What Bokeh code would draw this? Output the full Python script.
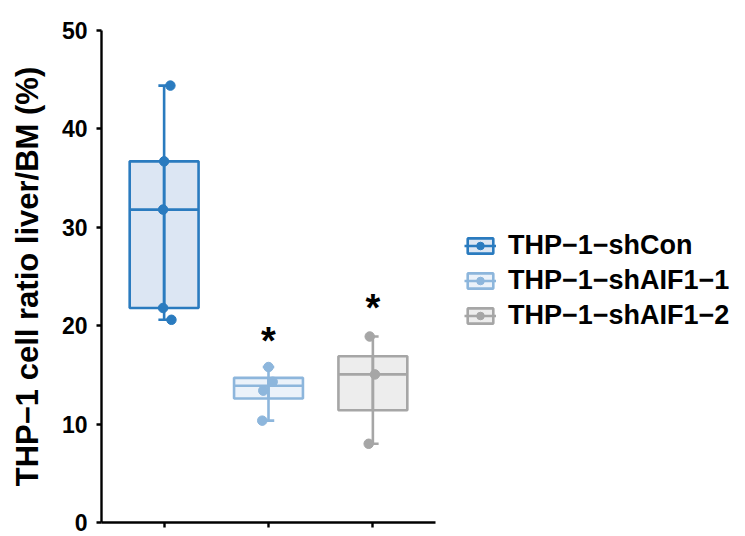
from bokeh.plotting import figure
from bokeh.models import Range1d, FixedTicker, Legend, LegendItem, ColumnDataSource
from bokeh.core.properties import value
from bokeh.embed import file_html
from bokeh.resources import INLINE

groups = ["THP\u22121\u2212shCon", "THP\u22121\u2212shAIF1\u22121", "THP\u22121\u2212shAIF1\u22122"]
points_shCon = [44.4, 36.7, 31.8, 21.8, 20.6]
points_shAIF1_1 = [15.8, 14.3, 13.4, 10.35]
points_shAIF1_2 = [18.9, 15.05, 8.0]
jitter_shCon = [0.06, 0.0, -0.01, -0.01, 0.07]
jitter_shAIF1_1 = [0.0, 0.04, -0.05, -0.06]
jitter_shAIF1_2 = [-0.03, 0.02, -0.04]
q1 = [21.8, 12.6, 11.4]
median = [31.8, 13.9, 15.05]
q3 = [36.7, 14.7, 16.9]
whisker_low = [20.6, 10.35, 8.0]
whisker_high = [44.4, 15.8, 18.9]
sig_x = [2, 3]
sig_y = [18.4, 21.75]
sig_text = ["*", "*"]

line_colors = ["#2A7BBF", "#8DB6DC", "#A6A6A6"]
fill_colors = ["#DCE6F3", "#EBF2FA", "#EDEDED"]

FONT = "Liberation Sans"
LW = 2.6

p = figure(frame_width=334, frame_height=492, output_backend="svg", toolbar_location=None,
           x_range=Range1d(0.4, 3.6), y_range=Range1d(0, 50),
           min_border_left=101, min_border_right=5, min_border_top=30, min_border_bottom=14)
p.outline_line_color = None
p.xgrid.visible = False
p.ygrid.visible = False

all_points = [points_shCon, points_shAIF1_1, points_shAIF1_2]
all_jitter = [jitter_shCon, jitter_shAIF1_1, jitter_shAIF1_2]
items = []
bw = 0.33
cw = 0.055
for i in range(3):
    xc = i + 1
    lc = line_colors[i]
    fc = fill_colors[i]
    box = p.quad(left=[xc - bw], right=[xc + bw], bottom=[q1[i]], top=[q3[i]],
                 fill_color=fc, line_color=lc, line_width=LW)
    p.segment(x0=[xc, xc], y0=[whisker_low[i], q1[i]], x1=[xc, xc], y1=[q3[i], whisker_high[i]],
              line_color=lc, line_width=LW)
    p.segment(x0=[xc - cw, xc - cw], y0=[whisker_low[i], whisker_high[i]],
              x1=[xc + cw, xc + cw], y1=[whisker_low[i], whisker_high[i]],
              line_color=lc, line_width=LW)
    med = p.segment(x0=[xc - bw], y0=[median[i]], x1=[xc + bw], y1=[median[i]],
                    line_color=lc, line_width=LW)
    src = ColumnDataSource(dict(x=[xc + j for j in all_jitter[i]], y=all_points[i]))
    sc = p.scatter("x", "y", source=src, size=9.5, fill_color=lc, line_color=lc)
    items.append(LegendItem(label=groups[i], renderers=[box, med, sc]))

p.text(x=sig_x, y=sig_y, text=sig_text, text_font=value(FONT), text_font_style="bold",
       text_font_size="38px", text_align="center", text_baseline="middle", text_color="black")

legend = Legend(items=items, location=(29, 189), orientation="vertical",
                glyph_width=32, glyph_height=19, label_height=35, label_standoff=12,
                spacing=0, padding=0, margin=0, border_line_color=None,
                background_fill_alpha=0,
                label_text_font=FONT, label_text_font_style="bold", label_text_font_size="27px",
                label_text_color="black")
p.add_layout(legend, "right")

p.xaxis.ticker = FixedTicker(ticks=[1, 2, 3])
p.xaxis.major_label_overrides = {1: "", 2: "", 3: ""}
p.xaxis.major_label_standoff = 0
p.xaxis.major_tick_out = 5
p.xaxis.major_tick_in = 0
p.xaxis.minor_tick_line_color = None
p.xaxis.axis_line_width = 2.4
p.xaxis.major_tick_line_width = 2.4
p.xaxis.axis_line_color = "black"
p.xaxis.major_tick_line_color = "black"

p.yaxis.ticker = FixedTicker(ticks=[0, 10, 20, 30, 40, 50])
p.yaxis.axis_label = "THP\u22121 cell ratio liver/BM (%)"
p.yaxis.axis_label_text_font = FONT
p.yaxis.axis_label_text_font_style = "bold"
p.yaxis.axis_label_text_font_size = "31px"
p.yaxis.axis_label_text_color = "black"
p.yaxis.axis_label_standoff = 14
p.yaxis.major_label_text_font = FONT
p.yaxis.major_label_text_font_style = "bold"
p.yaxis.major_label_text_font_size = "23px"
p.yaxis.major_label_text_color = "black"
p.yaxis.major_label_standoff = 9
p.yaxis.major_tick_out = 5
p.yaxis.major_tick_in = 0
p.yaxis.minor_tick_line_color = None
p.yaxis.axis_line_width = 2.4
p.yaxis.major_tick_line_width = 2.4
p.yaxis.axis_line_color = "black"
p.yaxis.major_tick_line_color = "black"

open("out.html", "w").write(file_html(p, INLINE))
